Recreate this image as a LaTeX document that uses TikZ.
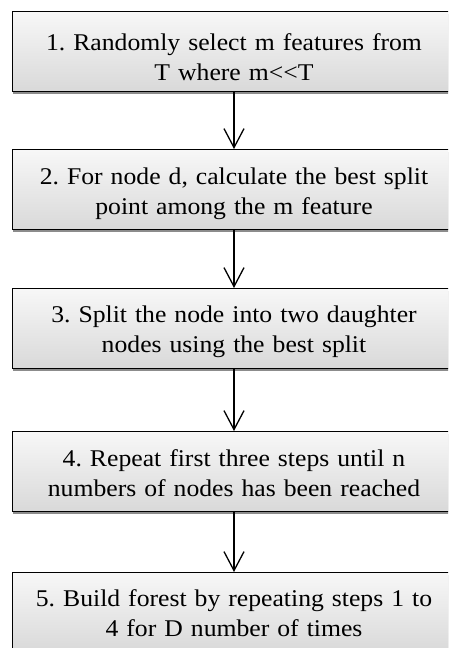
\documentclass[tikz,border=0pt]{standalone}
\usepackage{fontspec}
\setmainfont[FakeStretch=1.07]{Liberation Serif}
\usetikzlibrary{arrows.meta,shadows}
\begin{document}
\frenchspacing
\begin{tikzpicture}[x=1pt,y=1pt,
 stepbox/.style={draw=black, line width=1pt, rectangle, minimum width=444pt, minimum height=80pt,
   top color=gray!6, bottom color=gray!30, inner sep=0pt,
   drop shadow={shadow xshift=1pt, shadow yshift=-3pt, fill=black!45, opacity=1}, anchor=north},
 steptext/.style={align=center, text width=440pt, inner sep=0pt, anchor=base,
   font=\fontsize{24}{30}\selectfont},
 flow/.style={line width=1.3pt, -{Straight Barb[length=19pt,width=20pt,line width=1.3pt]}}]
\useasboundingbox (0,0) rectangle (448,648);
\clip (0,0) rectangle (448,648);
\node[stepbox] (s1) at (234,637) {};
\node[stepbox] (s2) at (234,499) {};
\node[stepbox] (s3) at (234,360) {};
\node[stepbox] (s4) at (234,217) {};
\node[stepbox] (s5) at (234,76) {};
\node[steptext] (t1) at ([yshift=-40pt]s1.north) {1. Randomly select m features from\\T where m<{}<T};
\node[steptext] (t2) at ([yshift=-36pt]s2.north) {2. For node d, calculate the best split\\point among the m feature};
\node[steptext] (t3) at ([yshift=-35pt]s3.north) {3. Split the node into two daughter\\nodes using the best split};
\node[steptext] (t4) at ([yshift=-36pt]s4.north) {4. Repeat first three steps until n\\numbers of nodes has been reached};
\node[steptext] (t5) at ([yshift=-35pt]s5.north) {5. Build forest by repeating steps 1 to\\4 for D number of times};
\draw[flow] (s1.south) -- (s2.north);
\draw[flow] (s2.south) -- (s3.north);
\draw[flow] (s3.south) -- (s4.north);
\draw[flow] (s4.south) -- (s5.north);
\end{tikzpicture}
\end{document}
